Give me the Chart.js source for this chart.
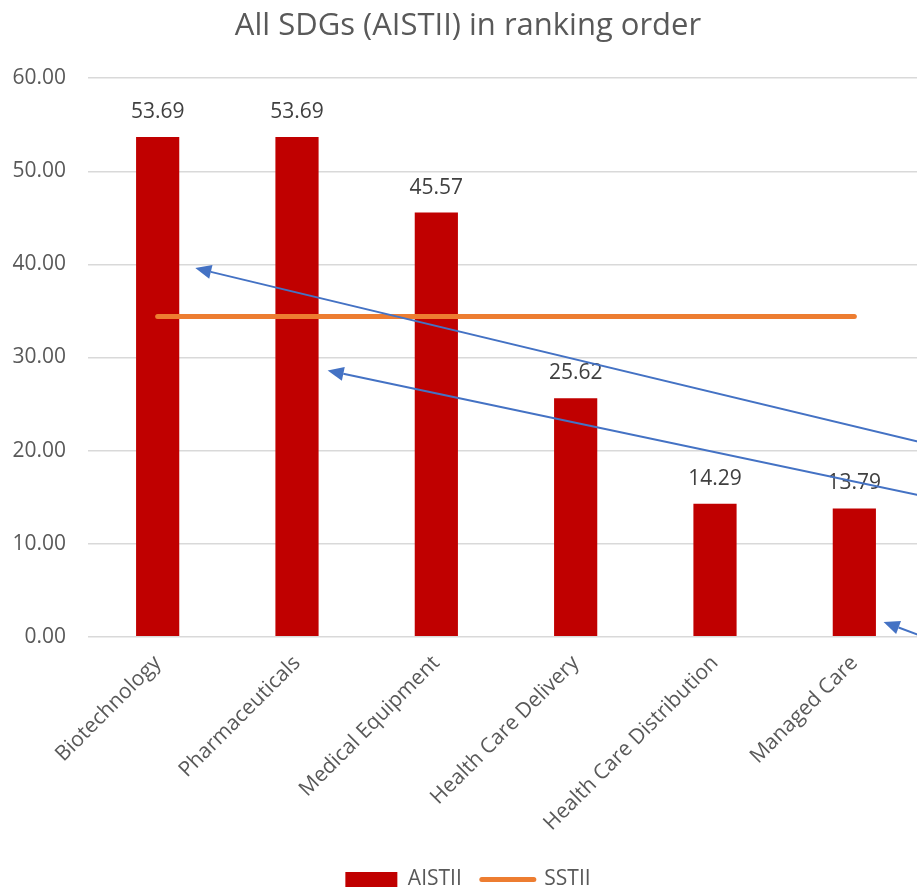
<!DOCTYPE html>
<html>
<head>
<meta charset="utf-8">
<script src="https://cdn.jsdelivr.net/npm/chart.js@4.4.1/dist/chart.umd.min.js"></script>
<style>
  html, body { margin: 0; padding: 0; background: #fff; overflow: hidden; }
  #wrap { width: 924px; height: 890px; }
</style>
</head>
<body>
<div id="wrap"><canvas id="chart"></canvas></div>
<script>
const categories = ["Biotechnology", "Pharmaceuticals", "Medical Equipment", "Health Care Delivery", "Health Care Distribution", "Managed Care"];
const aistii = [53.69, 53.69, 45.57, 25.62, 14.29, 13.79];
const sstii = [34.4, 34.4, 34.4, 34.4, 34.4, 34.4];
const yTicks = [0, 10, 20, 30, 40, 50, 60];

// blue arrows drawn over the chart, in data units: [fromX, fromY, toX, toY]
const arrows = [
    [5.5, 20.8, 0.27, 39.6],
    [5.5, 15.1, 1.22, 28.6],
    [5.62, -0.7, 5.21, 1.6]
];

const valueLabels = {
    id: "valueLabels",
    afterDatasetsDraw(chart) {
        const ctx = chart.ctx;
        const meta = chart.getDatasetMeta(1);
        ctx.save();
        ctx.font = "21px 'Open Sans'";
        ctx.fillStyle = "#404040";
        ctx.textAlign = "center";
        ctx.textBaseline = "alphabetic";
        meta.data.forEach((bar, i) => {
            ctx.fillText(aistii[i].toFixed(2), bar.x, bar.y - 19);
        });
        ctx.restore();
    }
};

const arrowLayer = {
    id: "arrowLayer",
    afterDraw(chart) {
        const ctx = chart.ctx;
        const x = chart.scales.x, y = chart.scales.y;
        ctx.save();
        ctx.strokeStyle = "#4472C4";
        ctx.fillStyle = "#4472C4";
        ctx.lineWidth = 2;
        arrows.forEach(a => {
            const x1 = x.getPixelForValue(a[0]), y1 = y.getPixelForValue(a[1]);
            const x2 = x.getPixelForValue(a[2]), y2 = y.getPixelForValue(a[3]);
            const ang = Math.atan2(y2 - y1, x2 - x1);
            const len = 16, half = 7;
            const bx = x2 - len * Math.cos(ang), by = y2 - len * Math.sin(ang);
            ctx.beginPath();
            ctx.moveTo(x1, y1);
            ctx.lineTo(bx, by);
            ctx.stroke();
            ctx.beginPath();
            ctx.moveTo(x2, y2);
            ctx.lineTo(bx + half * Math.sin(ang), by - half * Math.cos(ang));
            ctx.lineTo(bx - half * Math.sin(ang), by + half * Math.cos(ang));
            ctx.closePath();
            ctx.fill();
        });
        ctx.restore();
    }
};

new Chart(document.getElementById("chart"), {
    data: {
        labels: categories,
        datasets: [
            {
                type: "line",
                label: "SSTII",
                data: sstii,
                borderColor: "#ED7D31",
                backgroundColor: "#ED7D31",
                borderWidth: 5,
                borderCapStyle: "round",
                pointRadius: 0,
                order: 0
            },
            {
                type: "bar",
                label: "AISTII",
                data: aistii,
                backgroundColor: "#C00000",
                categoryPercentage: 1,
                barPercentage: 0.31,
                order: 1
            }
        ]
    },
    options: {
        responsive: true,
        maintainAspectRatio: false,
        animation: false,
        layout: { padding: { top: 8, right: 0, left: 12, bottom: -10 } },
        plugins: {
            title: {
                display: true,
                text: "All SDGs (AISTII) in ranking order",
                color: "#595959",
                font: { family: "'Open Sans'", size: 31, weight: "normal" },
                padding: { top: 0, bottom: 33 }
            },
            legend: {
                position: "bottom",
                reverse: true,
                labels: {
                    color: "#595959",
                    font: { family: "'Open Sans'", size: 21 },
                    usePointStyle: true,
                    pointStyleWidth: 52,
                    boxHeight: 15,
                    padding: 20,
                    generateLabels(chart) {
                        return chart.data.datasets.map((ds, i) => ({
                            text: ds.label,
                            fillStyle: ds.backgroundColor,
                            strokeStyle: ds.type === "line" ? ds.borderColor : ds.backgroundColor,
                            lineWidth: ds.type === "line" ? 5 : 0,
                            lineCap: "round",
                            pointStyle: ds.type === "line" ? "line" : "rect",
                            fontColor: "#595959",
                            datasetIndex: i
                        }));
                    }
                }
            },
            tooltip: { enabled: false }
        },
        scales: {
            x: {
                grid: { display: false },
                border: { display: false },
                afterFit(scale) {
                    scale.paddingLeft = 0;
                    scale.paddingRight = 0;
                    scale.height += 7;
                },
                ticks: {
                    color: "#595959",
                    font: { family: "'Open Sans'", size: 21 },
                    minRotation: 45,
                    maxRotation: 45,
                    padding: 6
                }
            },
            y: {
                min: 0,
                max: 60,
                afterBuildTicks(scale) {
                    scale.ticks = yTicks.map(v => ({ value: v }));
                },
                afterFit(scale) {
                    scale.width = 76;
                },
                grid: { color: "#D9D9D9", lineWidth: 1.5, drawTicks: false },
                border: { display: false },
                ticks: {
                    color: "#595959",
                    font: { family: "'Open Sans'", size: 21 },
                    padding: 22,
                    callback: v => Number(v).toFixed(2)
                }
            }
        }
    },
    plugins: [valueLabels, arrowLayer]
});
</script>
</body>
</html>
